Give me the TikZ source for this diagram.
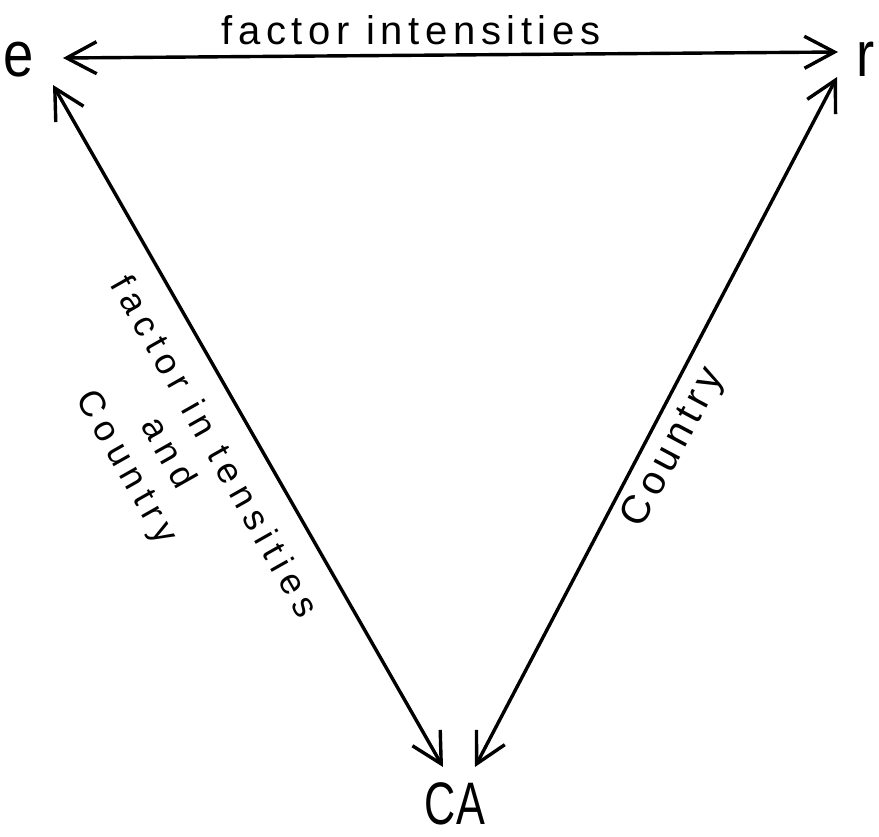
\documentclass[tikz,border=0pt]{standalone}
\usepackage{fontspec}
\setmainfont{Liberation Sans}
\newfontfamily\hand[LetterSpace=14]{Liberation Sans}
\newfontfamily\handw[LetterSpace=20]{Liberation Sans}
\usetikzlibrary{arrows.meta,calc}
\tikzset{
  barb/.tip={Straight Barb[length=30pt,width=32pt,line width=3.4pt]},
  arr/.style={line width=3.4pt, barb-barb},
  big/.style={inner sep=0pt, font=\fontsize{64}{64}\selectfont},
  lbl/.style={inner sep=0pt, font=\hand\fontsize{40}{40}\selectfont},
  lbls/.style={inner sep=0pt, rotate=-60.5, font=\handw\fontsize{36}{36}\selectfont}
}
\begin{document}
\begin{tikzpicture}[x=1pt,y=-1pt]
\useasboundingbox (0,0) rectangle (879,837);
\node[big, xscale=0.85] (e) at (19,60) {e};
\node[big, xscale=0.85] (r) at (866,59) {r};
\node[big, xscale=0.72, font=\fontsize{60}{60}\selectfont] (CA) at (455,804) {CA};
\coordinate (eR) at ($(e)+(44,-2)$);
\coordinate (eD) at ($(e)+(34,25)$);
\coordinate (rL) at ($(r)+(-28,-7)$);
\coordinate (rD) at ($(r)+(-29,18)$);
\coordinate (CAl) at ($(CA)+(-12,-37)$);
\coordinate (CAr) at ($(CA)+(20,-37)$);
\draw[arr] (eR) -- (rL);
\draw[arr] (eD) -- (CAl);
\draw[arr] (rD) -- (CAr);
\node[lbl] (t1) at (411,30) {factor intensities};
\node[lbls] (t2) at (216,446) {factor in tensities};
\node[lbls] (t3) at (170,452) {and};
\node[lbls] (t4) at (125,468) {Country};
\node[lbl, rotate=62] (t5) at (674,448) {Country};
\end{tikzpicture}
\end{document}
